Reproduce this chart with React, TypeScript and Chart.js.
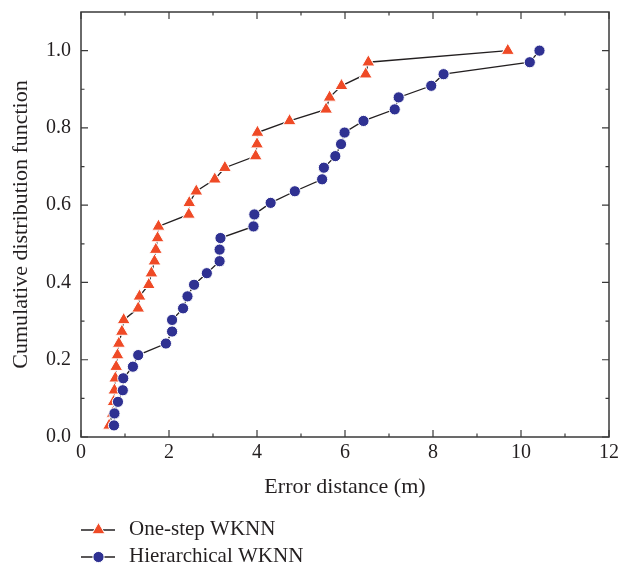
import React, { useEffect, useRef } from "react";
import { Chart, registerables } from "chart.js";

Chart.register(...registerables);

// Cumulative probability levels
const cdfLevels = [
  0.03, 0.061, 0.091, 0.121, 0.152, 0.182, 0.212, 0.242, 0.273, 0.303, 0.333,
  0.364, 0.394, 0.424, 0.455, 0.485, 0.515, 0.545, 0.576, 0.606, 0.636, 0.667,
  0.697, 0.727, 0.758, 0.788, 0.818, 0.848, 0.879, 0.909, 0.939, 0.97, 1.0,
];

// Error distances (m), One-step WKNN
const oneStepErrors = [
  0.64, 0.72, 0.74, 0.76, 0.78, 0.8, 0.83, 0.86, 0.93, 0.97, 1.3, 1.33, 1.54,
  1.6, 1.67, 1.7, 1.74, 1.76, 2.45, 2.46, 2.62, 3.04, 3.27, 3.97, 4.0, 4.01,
  4.74, 5.57, 5.65, 5.92, 6.47, 6.53, 9.7,
];

// Error distances (m), Hierarchical WKNN
const hierarchicalErrors = [
  0.75, 0.76, 0.84, 0.95, 0.96, 1.18, 1.3, 1.93, 2.07, 2.07, 2.32, 2.42, 2.57,
  2.86, 3.15, 3.15, 3.17, 3.92, 3.94, 4.31, 4.86, 5.48, 5.52, 5.78, 5.91, 5.99,
  6.42, 7.13, 7.22, 7.96, 8.24, 10.2, 10.42,
];

const seriesNames = ["One-step WKNN", "Hierarchical WKNN"];
const seriesColors = ["#EF4A26", "#2F3192"];
const seriesMarkers = ["triangle", "circle"];

const xTickValues = [0, 2, 4, 6, 8, 10, 12];
const xMinorValues = [1, 3, 5, 7, 9, 11];
const yTickValues = [0, 0.2, 0.4, 0.6, 0.8, 1.0];
const yMinorValues = [0.1, 0.3, 0.5, 0.7, 0.9];

const xTitle = "Error distance (m)";
const yTitle = "Cumulative distribution function";

const FONT = "'Liberation Serif', 'Times New Roman', serif";
const INK = "#231f20";
const AXIS = "#3a3a3a";

function drawMarker(ctx: CanvasRenderingContext2D, style: string, x: number, y: number, r: number, fill: string) {
  ctx.save();
  ctx.fillStyle = fill;
  ctx.strokeStyle = "#ffffff";
  ctx.lineWidth = 1;
  ctx.beginPath();
  if (style === "triangle") {
    let rad = 0;
    ctx.moveTo(x + Math.sin(rad) * r, y - Math.cos(rad) * r);
    rad += (2 * Math.PI) / 3;
    ctx.lineTo(x + Math.sin(rad) * r, y - Math.cos(rad) * r);
    rad += (2 * Math.PI) / 3;
    ctx.lineTo(x + Math.sin(rad) * r, y - Math.cos(rad) * r);
    ctx.closePath();
  } else {
    ctx.arc(x, y, r, 0, Math.PI * 2);
  }
  ctx.fill();
  ctx.stroke();
  ctx.restore();
}

const framePlugin = {
  id: "frameTicks",
  afterDatasetsDraw(chart: any) {
    const { ctx, chartArea: a, scales } = chart;
    const xs = scales.x;
    const ys = scales.y;
    ctx.save();
    ctx.strokeStyle = AXIS;
    ctx.lineWidth = 1.5;
    ctx.strokeRect(a.left, a.top, a.right - a.left, a.bottom - a.top);
    ctx.lineWidth = 1.2;
    const major = 7;
    const minor = 3.5;
    ctx.beginPath();
    const xt = (v: number, len: number) => {
      const px = xs.getPixelForValue(v);
      ctx.moveTo(px, a.bottom);
      ctx.lineTo(px, a.bottom - len);
      ctx.moveTo(px, a.top);
      ctx.lineTo(px, a.top + len);
    };
    const yt = (v: number, len: number) => {
      const py = ys.getPixelForValue(v);
      ctx.moveTo(a.left, py);
      ctx.lineTo(a.left + len, py);
      ctx.moveTo(a.right, py);
      ctx.lineTo(a.right - len, py);
    };
    xTickValues.forEach((v) => xt(v, major));
    xMinorValues.forEach((v) => xt(v, minor));
    yTickValues.forEach((v) => yt(v, major));
    yMinorValues.forEach((v) => yt(v, minor));
    ctx.stroke();
    ctx.restore();
  },
  afterDraw(chart: any) {
    const { ctx, chartArea: a } = chart;
    ctx.save();
    const rows = [a.bottom + 93, a.bottom + 120];
    const radii = [7.5, 5.6];
    seriesNames.forEach((name, i) => {
      const y = rows[i];
      const x0 = a.left;
      ctx.strokeStyle = INK;
      ctx.lineWidth = 1.3;
      ctx.beginPath();
      ctx.moveTo(x0, y);
      ctx.lineTo(x0 + 34, y);
      ctx.stroke();
      drawMarker(ctx, seriesMarkers[i], x0 + 17.5, y, radii[i], seriesColors[i]);
      ctx.fillStyle = INK;
      ctx.font = `21px ${FONT}`;
      ctx.textAlign = "left";
      ctx.textBaseline = "middle";
      ctx.fillText(name, x0 + 48, y - 1);
    });
    ctx.restore();
  },
};

export default function App() {
  const canvasRef = useRef<HTMLCanvasElement | null>(null);

  useEffect(() => {
    document.body.style.margin = "0";
    const canvas = canvasRef.current;
    if (!canvas) return;
    const toPoints = (xsArr: number[]) => xsArr.map((x, i) => ({ x, y: cdfLevels[i] }));
    const chart = new Chart(canvas, {
      type: "scatter",
      data: {
        datasets: [
          {
            label: seriesNames[0],
            data: toPoints(oneStepErrors),
            showLine: true,
            borderColor: INK,
            borderWidth: 1.3,
            tension: 0,
            pointStyle: "triangle",
            pointRadius: 7.5,
            pointBackgroundColor: seriesColors[0],
            pointBorderColor: "#ffffff",
            pointBorderWidth: 1,
            order: 1,
          },
          {
            label: seriesNames[1],
            data: toPoints(hierarchicalErrors),
            showLine: true,
            borderColor: INK,
            borderWidth: 1.3,
            tension: 0,
            pointStyle: "circle",
            pointRadius: 5.6,
            pointBackgroundColor: seriesColors[1],
            pointBorderColor: "#ffffff",
            pointBorderWidth: 1,
            order: 0,
          },
        ],
      },
      options: {
        responsive: false,
        animation: false,
        devicePixelRatio: 1,
        layout: { padding: { left: 0, right: 20, top: 12, bottom: 66 } },
        plugins: {
          legend: { display: false },
          tooltip: { enabled: false },
        },
        scales: {
          x: {
            type: "linear",
            min: 0,
            max: 12,
            afterBuildTicks: (s: any) => {
              s.ticks = xTickValues.map((v) => ({ value: v }));
            },
            afterFit: (s: any) => {
              s.height = 63;
              s.paddingLeft = 0;
              s.paddingRight = 0;
            },
            grid: { display: false, drawTicks: false },
            border: { display: false },
            ticks: {
              padding: 4,
              color: INK,
              font: { family: FONT, size: 20 },
              maxRotation: 0,
              autoSkip: false,
            },
            title: {
              display: true,
              text: xTitle,
              color: INK,
              font: { family: FONT, size: 22 },
              padding: { top: 0, bottom: 0 },
            },
          },
          y: {
            type: "linear",
            min: 0,
            max: 1.1,
            afterBuildTicks: (s: any) => {
              s.ticks = yTickValues.map((v) => ({ value: v }));
            },
            afterFit: (s: any) => {
              s.width = 81;
              s.paddingTop = 0;
              s.paddingBottom = 0;
            },
            grid: { display: false, drawTicks: false },
            border: { display: false },
            ticks: {
              padding: 10,
              color: INK,
              font: { family: FONT, size: 20 },
              autoSkip: false,
              callback: (v: any) => Number(v).toFixed(1),
            },
            title: {
              display: true,
              text: yTitle,
              color: INK,
              font: { family: FONT, size: 22 },
              padding: { top: 8.5, bottom: 0 },
            },
          },
        },
      },
      plugins: [framePlugin],
    } as any);
    return () => chart.destroy();
  }, []);

  return (
    <div style={{ width: 629, height: 566 }}>
      <canvas ref={canvasRef} width={629} height={566} style={{ display: "block" }} />
    </div>
  );
}
